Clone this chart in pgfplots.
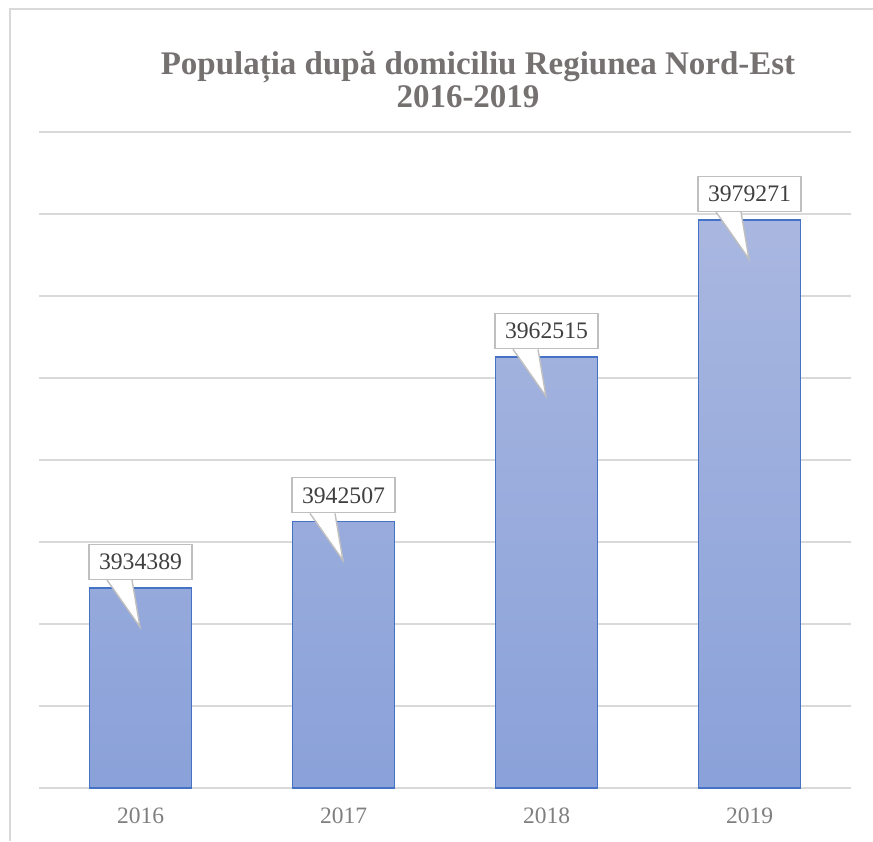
\documentclass[border=0pt]{standalone}
\usepackage{fontspec}
\setmainfont{Liberation Serif}
\usepackage{pgfplots}
\pgfplotsset{compat=1.18}
\definecolor{gridc}{HTML}{D9D9D9}
\definecolor{titlec}{HTML}{767171}
\definecolor{tickc}{HTML}{7F7F7F}
\definecolor{labc}{HTML}{404040}
\definecolor{labb}{HTML}{BFBFBF}
\definecolor{barline}{HTML}{4472C4}
\definecolor{bartop}{HTML}{A9B7E0}
\definecolor{barbot}{HTML}{8AA1D9}
\begin{document}
\begin{tikzpicture}
\useasboundingbox (0pt,0pt) rectangle (873pt,841pt);
\draw[gridc, line width=2pt] (10pt,0pt) -- (10pt,832pt) -- (873pt,832pt);
\node[anchor=base, text=titlec, font=\fontsize{33}{33}\selectfont\bfseries] at (478pt,766pt) {Populația după domiciliu Regiunea Nord-Est};
\node[anchor=base, text=titlec, font=\fontsize{33}{33}\selectfont\bfseries] at (468pt,733pt) {2016-2019};
\begin{axis}[
  at={(39pt,53pt)}, anchor=south west,
  scale only axis, width=812pt, height=656pt,
  xmin=-0.5, xmax=3.5, ymin=3910000, ymax=3990000,
  ytick={3910000,3920000,3930000,3940000,3950000,3960000,3970000,3980000,3990000},
  yticklabels={}, scaled y ticks=false,
  xtick={0,1,2,3}, xticklabels={2016,2017,2018,2019},
  major tick length=0pt,
  axis line style={draw=none},
  ymajorgrids, grid style={gridc, line width=2pt},
  /pgf/number format/assume math mode=true,
  xticklabel style={anchor=base, yshift=-35pt, text=tickc, font=\fontsize{23.5}{23.5}\selectfont},
  clip=false,
]
\addplot[ybar, bar width=102pt, draw=barline, line width=1.8pt,
  top color=bartop, bottom color=barbot] coordinates {
  (0,3934389)
  (1,3942507)
  (2,3962515)
  (3,3979271)
};
\addplot[draw=none, mark=none,
  point meta=explicit symbolic,
  nodes near coords,
  every node near coord/.style={anchor=south, yshift=8pt, fill=white, draw=labb,
    line width=1.4pt, minimum width=103pt, minimum height=35pt, inner sep=0pt,
    text=labc, font=\fontsize{23.7}{23.7}\selectfont,
    append after command={\pgfextra{\let\LN\tikzlastnode
      \fill[white] ([xshift=-33.5pt,yshift=1.2pt]\LN.south) -- ([xshift=-0.5pt,yshift=-47pt]\LN.south) -- ([xshift=-8.5pt,yshift=1.2pt]\LN.south) -- cycle;
      \draw[labb, line width=1.4pt, line join=miter] ([xshift=-33.5pt]\LN.south) -- ([xshift=-0.5pt,yshift=-47pt]\LN.south) -- ([xshift=-8.5pt]\LN.south);
    }}},
] coordinates {
  (0,3934389) [3934389]
  (1,3942507) [3942507]
  (2,3962515) [3962515]
  (3,3979271) [3979271]
};
\end{axis}
\end{tikzpicture}
\end{document}
